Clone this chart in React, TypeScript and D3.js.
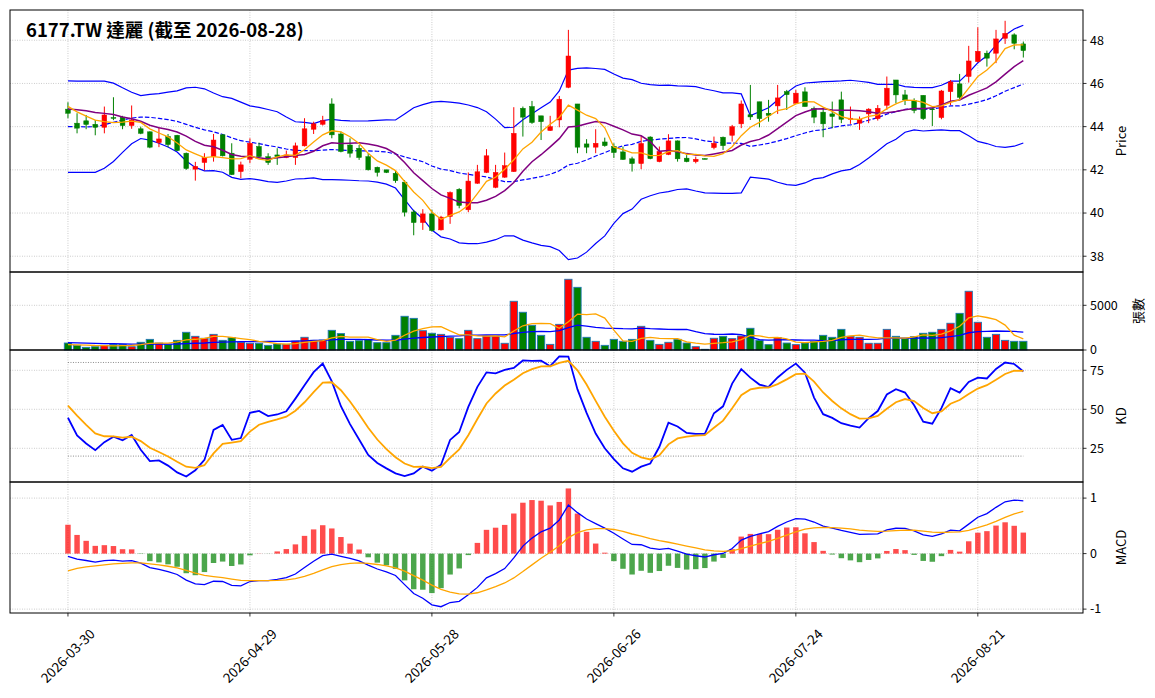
import React from "react";
import * as d3 from "d3";

// ---------- data ----------
const tickIndex = [0, 20, 40, 60, 80, 100];
const tickLabels = ["2026-03-30", "2026-04-29", "2026-05-28", "2026-06-26", "2026-07-24", "2026-08-21"];

const open = [
  44.81, 44.16, 44.27, 44.11, 43.97, 44.42, 44.44, 44.05, 43.9, 43.76,
  43.26, 43.54, 43.6, 42.77, 42.03, 42.34, 42.61, 43.62, 42.77, 41.92,
  42.49, 43.08, 42.61, 42.69, 42.57, 42.57, 43.11, 43.88, 44.11, 45.05,
  43.66, 43.15, 43.0, 42.61, 42.12, 42.0, 41.84, 41.43, 40.05, 39.56,
  39.96, 39.22, 39.84, 41.1, 40.15, 41.38, 41.88, 41.19, 41.66, 41.92,
  44.85, 44.93, 44.5, 43.82, 44.31, 45.82, 45.05, 43.2, 43.05, 43.29,
  43.08, 42.83, 42.51, 42.29, 43.52, 42.38, 42.71, 43.34, 42.54, 42.38,
  42.52, 43.03, 43.51, 43.6, 44.13, 44.55, 45.15, 44.62, 44.96, 45.62,
  45.08, 45.61, 44.84, 44.67, 44.59, 45.24, 44.34, 44.16, 44.59, 44.37,
  44.99, 46.16, 45.47, 45.21, 45.45, 44.82, 44.42, 45.62, 45.98, 46.32,
  47.01, 47.4, 47.4, 48.09, 48.25, 47.83,
];
const high = [
  45.13, 44.62, 44.54, 44.31, 44.93, 45.36, 44.5, 44.98, 44.0, 43.78,
  43.97, 43.66, 43.62, 42.8, 42.37, 42.77, 43.66, 43.66, 43.23, 42.38,
  43.46, 43.26, 42.77, 43.0, 42.89, 43.26, 44.39, 44.23, 44.5, 45.31,
  43.77, 43.46, 43.15, 42.77, 42.15, 42.0, 41.97, 41.53, 40.15, 40.18,
  40.15, 39.87, 41.0, 41.15, 41.88, 42.23, 42.96, 42.23, 42.8, 44.9,
  44.93, 45.19, 44.5, 44.5, 45.42, 48.48, 45.05, 43.42, 43.88, 43.49,
  43.23, 43.08, 42.61, 43.58, 43.55, 43.08, 43.65, 43.36, 42.68, 42.61,
  42.54, 43.54, 43.54, 44.08, 45.21, 45.93, 45.15, 45.24, 45.93, 45.7,
  45.7, 45.82, 44.93, 44.84, 45.16, 45.62, 44.93, 44.47, 44.85, 45.0,
  46.32, 46.16, 45.7, 45.31, 45.45, 44.9, 45.7, 46.16, 46.44, 47.74,
  48.6, 47.52, 48.48, 48.9, 48.32, 47.94,
];
const low = [
  44.39, 43.69, 43.88, 43.6, 43.69, 44.3, 43.88, 43.9, 43.65, 43.0,
  43.05, 43.05, 42.87, 42.0, 41.5, 41.97, 42.38, 42.62, 41.76, 41.61,
  42.31, 42.58, 42.23, 42.23, 42.54, 42.23, 43.08, 43.66, 44.05, 43.46,
  42.81, 42.57, 42.46, 41.97, 41.69, 41.85, 41.4, 39.84, 38.97, 39.22,
  39.14, 39.19, 39.5, 40.22, 40.04, 41.35, 41.85, 41.15, 41.63, 41.9,
  43.54, 44.13, 43.38, 43.8, 43.97, 45.78, 42.77, 42.77, 42.77, 43.07,
  42.55, 42.46, 41.92, 42.03, 42.49, 42.35, 42.68, 42.38, 42.35, 42.3,
  42.49, 42.95, 42.92, 43.31, 43.93, 44.31, 43.97, 44.23, 44.59, 44.77,
  45.05, 44.93, 44.16, 43.51, 43.93, 44.16, 44.13, 43.85, 44.16, 44.28,
  44.77, 45.08, 45.0, 44.62, 44.31, 44.03, 44.34, 45.0, 45.24, 46.04,
  46.97, 46.78, 46.94, 47.83, 47.58, 47.2,
];
const close = [
  44.62, 43.93, 44.1, 43.97, 44.54, 44.39, 44.05, 44.31, 43.69, 43.05,
  43.43, 43.17, 42.89, 42.06, 42.16, 42.57, 43.38, 42.65, 41.78, 42.23,
  43.23, 42.61, 42.34, 42.61, 42.69, 43.11, 43.9, 44.13, 44.28, 43.62,
  42.85, 42.77, 42.57, 42.0, 41.88, 41.88, 41.5, 40.04, 39.56, 39.96,
  39.19, 39.81, 40.95, 40.35, 41.48, 41.91, 42.65, 41.88, 42.19, 43.69,
  44.44, 44.19, 44.23, 44.0, 45.27, 47.27, 43.05, 43.05, 43.23, 43.12,
  42.8, 42.48, 42.29, 43.22, 42.52, 42.85, 43.34, 42.51, 42.38, 42.49,
  42.51, 43.23, 43.12, 44.0, 45.05, 44.45, 44.37, 44.52, 45.33, 45.48,
  45.55, 44.93, 44.44, 44.13, 44.47, 44.34, 44.39, 44.34, 44.81, 44.85,
  45.78, 45.47, 45.24, 44.75, 44.37, 44.79, 45.65, 46.07, 45.36, 47.04,
  47.49, 47.17, 48.06, 48.32, 47.86, 47.52,
];
const volume = [
  780, 520, 300, 370, 520, 630, 630, 370, 860, 1190,
  780, 630, 1080, 1980, 1530, 1310, 1750, 1080, 1380, 860,
  750, 750, 520, 670, 630, 1000, 1420, 1080, 1120, 2200,
  1830, 970, 1040, 1190, 820, 820, 1640, 3770, 3540, 2160,
  1870, 1750, 1420, 1270, 2200, 1270, 1570, 1570, 750, 5450,
  4220, 2760, 1640, 630, 2870, 7910, 7010, 1420, 970, 520,
  1190, 970, 1190, 2650, 1080, 630, 860, 1190, 780, 370,
  80, 1310, 1530, 1270, 1570, 2430, 1080, 600, 1380, 780,
  600, 780, 970, 1640, 1420, 2310, 1530, 1420, 750, 750,
  2310, 1530, 1270, 1490, 1870, 1980, 2310, 2990, 4100, 6570,
  3100, 1420, 1750, 1080, 970, 970,
];

// sessions before the first visible bar (implied by the indicators at the left edge)
const warmupClose = [44.0, 44.2, 43.9, 42.6, 42.2, 42.0, 42.4, 42.8, 43.3, 44.4, 44.3, 44.6, 44.8, 44.9, 44.9, 45.2, 45.1, 44.9, 44.88];
const warmupHigh = [45.0, 45.2, 45.3, 45.4, 46.0, 45.6, 45.3, 45.2];
const warmupLow = [44.3, 44.5, 44.6, 44.6, 44.9, 44.8, 44.6, 44.5];
const warmupVolume = [900, 1100, 800, 950, 700, 1200, 850, 900, 1000, 750, 800, 950, 900, 850, 750, 600, 500, 580, 540];
const kdStart = [44.6, 52.3]; // K, D at first bar
const macdStart = [44.6, 44.65, -0.31]; // EMA12, EMA26, DEA at first bar

const priceTicks = [38, 40, 42, 44, 46, 48];
const volTicks = [0, 5000];
const kdTicks = [25, 50, 75];
const macdTicks = [-1, 0, 1];

// ---------- indicators ----------
const N = close.length;
function sma(src: number[], off: number, n: number): number[] {
  return close.map((_, i) => d3.mean(src.slice(i + off - n + 1, i + off + 1)) as number);
}
const cAll = warmupClose.concat(close);
const cOff = warmupClose.length;
const ma5 = sma(cAll, cOff, 5);
const ma10 = sma(cAll, cOff, 10);
const ma20 = sma(cAll, cOff, 20);
const sd20 = close.map((_, i) => d3.deviation(cAll.slice(i + cOff - 19, i + cOff + 1)) as number);
const bbUp = ma20.map((m, i) => m + 2 * sd20[i]);
const bbLo = ma20.map((m, i) => m - 2 * sd20[i]);

const vAll = warmupVolume.concat(volume);
const vOff = warmupVolume.length;
const vma5 = sma(vAll, vOff, 5);
const vma20 = sma(vAll, vOff, 20);

const hAll = warmupHigh.concat(high);
const lAll = warmupLow.concat(low);
const hOff = warmupHigh.length;
const K: number[] = [kdStart[0]];
const D: number[] = [kdStart[1]];
for (let i = 1; i < N; i++) {
  const hh = d3.max(hAll.slice(i + hOff - 8, i + hOff + 1)) as number;
  const ll = d3.min(lAll.slice(i + hOff - 8, i + hOff + 1)) as number;
  const rsv = hh === ll ? 50 : ((close[i] - ll) / (hh - ll)) * 100;
  K.push((2 / 3) * K[i - 1] + rsv / 3);
  D.push((2 / 3) * D[i - 1] + K[i] / 3);
}
let e12 = macdStart[0];
let e26 = macdStart[1];
const DIF: number[] = [e12 - e26];
const DEA: number[] = [macdStart[2]];
for (let i = 1; i < N; i++) {
  e12 += (2 / 13) * (close[i] - e12);
  e26 += (2 / 27) * (close[i] - e26);
  DIF.push(e12 - e26);
  DEA.push(DEA[i - 1] + 0.2 * (DIF[i] - DEA[i - 1]));
}
const HIST = DIF.map((d, i) => 2 * (d - DEA[i]));

// ---------- layout ----------
const WIDTH = 1155;
const HEIGHT = 698;
const L = 10;
const R = 1083;
const P = { price: [10, 272], vol: [272, 350], kd: [350, 482], macd: [482, 613] };
const FONT = "'Noto Sans CJK TC', 'Noto Sans', sans-serif";
const UP = "#ff0000";
const DOWN = "#008000";

const x = d3.scaleLinear().domain([-6.37, 111.56]).range([L, R]);
const step = x(1) - x(0);
const yP = d3.scaleLinear().domain([37.27, 49.4]).range([P.price[1], P.price[0]]);
const yV = d3.scaleLinear().domain([0, 8725]).range([P.vol[1], P.vol[0]]);
const yK = d3.scaleLinear().domain([3.4, 88]).range([P.kd[1], P.kd[0]]);
const yM = d3.scaleLinear().domain([-1.07, 1.29]).range([P.macd[1], P.macd[0]]);

function path(vals: number[], y: d3.ScaleLinear<number, number>) {
  return d3.line<number>().x((_, i) => x(i)).y((d) => y(d))(vals) || "";
}

const GRID = { stroke: "#b0b0b0", strokeWidth: 0.8, strokeDasharray: "0.8,1.6" };

function Panel({ range, y, ticks, label, labelX, gridTicks }: any) {
  const [top, bottom] = range;
  return (
    <g>
      {tickIndex.map((t) => (
        <line key={"vg" + t} x1={x(t)} x2={x(t)} y1={top} y2={bottom} {...GRID} />
      ))}
      {gridTicks.map((t: number) => (
        <line key={"hg" + t} x1={L} x2={R} y1={y(t)} y2={y(t)} {...GRID} />
      ))}
      {ticks.map((t: number) => (
        <g key={"t" + t}>
          <line x1={R} x2={R + 3.5} y1={y(t)} y2={y(t)} stroke="#000" strokeWidth={0.8} />
          <text x={R + 7} y={y(t)} dy="0.35em" fontSize={12.5} fontFamily={FONT} fill="#000">
            {t}
          </text>
        </g>
      ))}
      <text
        transform={`translate(${labelX},${(top + bottom) / 2}) rotate(-90)`}
        textAnchor="middle"
        dy="0.35em"
        fontSize={13}
        fontFamily={FONT}
        fill="#000"
      >
        {label}
      </text>
    </g>
  );
}

function Frame({ range }: any) {
  return <rect x={L} y={range[0]} width={R - L} height={range[1] - range[0]} fill="none" stroke="#000" strokeWidth={1} />;
}

export default function App() {
  const bw = step * 0.52;
  const vw = step * 0.8;
  const hw = step * 0.6;
  return (
    <div style={{ position: "absolute", left: 0, top: 0 }}>
      <svg width={WIDTH} height={HEIGHT} style={{ display: "block", background: "#fff" }}>
        <rect x={0} y={0} width={WIDTH} height={HEIGHT} fill="#fff" />
        {/* grids & axes */}
        <Panel range={P.price} y={yP} ticks={priceTicks} gridTicks={priceTicks} label="Price" labelX={1121} />
        <Panel range={P.vol} y={yV} ticks={volTicks} gridTicks={[5000]} label="張數" labelX={1138} />
        <Panel range={P.kd} y={yK} ticks={kdTicks} gridTicks={kdTicks} label="KD" labelX={1121} />
        <Panel range={P.macd} y={yM} ticks={macdTicks} gridTicks={macdTicks} label="MACD" labelX={1121} />

        {/* price panel */}
        <g>
          <path d={path(bbUp, yP)} fill="none" stroke="#0000ff" strokeWidth={1.2} />
          <path d={path(bbLo, yP)} fill="none" stroke="#0000ff" strokeWidth={1.2} />
          <path d={path(ma20, yP)} fill="none" stroke="#0000ff" strokeWidth={1.2} strokeDasharray="4.5,2" />
          {close.map((c, i) => {
            const o = open[i];
            const col = c >= o ? UP : DOWN;
            const yt = yP(Math.max(o, c));
            const yb = yP(Math.min(o, c));
            return (
              <g key={"c" + i}>
                <line x1={x(i)} x2={x(i)} y1={yP(high[i])} y2={yP(low[i])} stroke={col} strokeWidth={1} />
                <rect x={x(i) - bw / 2} y={yt} width={bw} height={Math.max(yb - yt, 0.8)} fill={col} stroke={col} strokeWidth={0.5} />
              </g>
            );
          })}
          <path d={path(ma10, yP)} fill="none" stroke="#800080" strokeWidth={1.5} />
          <path d={path(ma5, yP)} fill="none" stroke="#ffa500" strokeWidth={1.3} />
          <text x={26} y={37} fontSize={18.5} fontWeight="bold" fontFamily={FONT} fill="#000">
            6177.TW 達麗 (截至 2026-08-28)
          </text>
        </g>

        {/* volume panel */}
        <g>
          {volume.map((v, i) => (
            <rect
              key={"v" + i}
              x={x(i) - vw / 2}
              y={yV(v)}
              width={vw}
              height={yV(0) - yV(v)}
              fill={close[i] >= open[i] ? UP : DOWN}
              stroke="#1f77b4"
              strokeWidth={0.9}
            />
          ))}
          <path d={path(vma20, yV)} fill="none" stroke="#0000ff" strokeWidth={1.3} />
          <path d={path(vma5, yV)} fill="none" stroke="#ffa500" strokeWidth={1.3} />
        </g>

        {/* KD panel */}
        <g>
          {[80, 20].map((lv) => (
            <line key={"lv" + lv} x1={x(0)} x2={x(N - 1)} y1={yK(lv)} y2={yK(lv)} stroke="#808080" strokeWidth={0.9} strokeDasharray="1,1.5" />
          ))}
          <path d={path(K, yK)} fill="none" stroke="#0000ff" strokeWidth={1.8} />
          <path d={path(D, yK)} fill="none" stroke="#ffa500" strokeWidth={1.8} />
        </g>

        {/* MACD panel */}
        <g>
          {HIST.map((h, i) => (
            <rect
              key={"h" + i}
              x={x(i) - hw / 2}
              y={Math.min(yM(h), yM(0))}
              width={hw}
              height={Math.abs(yM(h) - yM(0))}
              fill={h >= 0 ? "#ff0000" : "#008000"}
              fillOpacity={0.7}
            />
          ))}
          <path d={path(DIF, yM)} fill="none" stroke="#0000ff" strokeWidth={1.3} />
          <path d={path(DEA, yM)} fill="none" stroke="#ffa500" strokeWidth={1.3} />
        </g>

        {/* frames */}
        <Frame range={P.price} />
        <Frame range={P.vol} />
        <Frame range={P.kd} />
        <Frame range={P.macd} />

        {/* x axis */}
        {tickIndex.map((t, k) => (
          <g key={"xt" + t}>
            <line x1={x(t)} x2={x(t)} y1={P.macd[1]} y2={P.macd[1] + 3.5} stroke="#000" strokeWidth={0.8} />
            <text
              transform={`translate(${x(t)},656) rotate(-45)`}
              textAnchor="middle"
              dy="0.35em"
              fontSize={13.5}
              fontFamily={FONT}
              fill="#000"
            >
              {tickLabels[k]}
            </text>
          </g>
        ))}
      </svg>
    </div>
  );
}
